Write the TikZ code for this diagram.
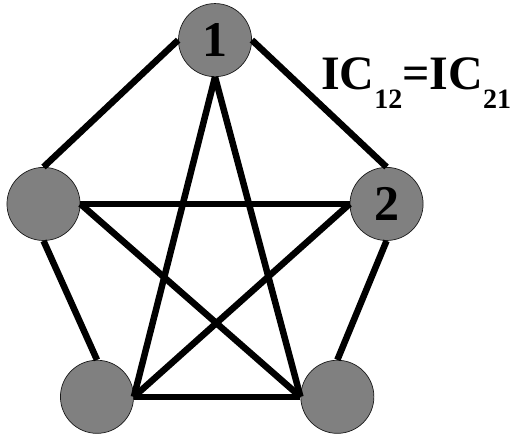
\documentclass[tikz,border=0pt]{standalone}
\usepackage{fontspec}
\setmainfont{Liberation Serif}
\usepackage{tikz}
\usetikzlibrary{positioning, calc}
\definecolor{MediumGray}{rgb}{0.5, 0.5, 0.5}
\definecolor{DarkLine}{rgb}{0.1, 0.1, 0.1}

\begin{document}
\begin{tikzpicture}[
    agent/.style={circle, draw=DarkLine, line width=0.7pt, fill=MediumGray,
                  minimum size=2.57cm, inner sep=0pt, font=\bfseries\fontsize{50}{50}\selectfont},
    link/.style={line width=6.5pt, black},
    lbl/.style={font=\bfseries\fontsize{48}{48}\selectfont, inner sep=0pt},
]
\useasboundingbox (0,0) rectangle (17.93,15.43);

% ============ agentes ============
\node[agent] (a1) at (7.56,14.02) {1};
\node[agent] (a2) at (13.59,8.26) {2};
\node[agent] (a3) at (11.86,1.48) {};
\node[agent] (a4) at (3.41,1.48) {};
\node[agent] (a5) at (1.53,8.26) {};

% ============ contorno ============
\draw[link] (a1.east) -- (a2.north);
\draw[link] (a2.south) -- (a3.north);
\draw[link] (a3.west) -- (a4.east);
\draw[link] (a4.north) -- (a5.south);
\draw[link] (a5.north) -- (a1.west);

% ============ estrella ============
\draw[link] (a1.south) -- (a3.west);
\draw[link] (a1.south) -- (a4.east);
\draw[link] (a5.east) -- (a2.west);
\draw[link] (a5.east) -- (a3.west);
\draw[link] (a2.west) -- (a4.east);

% etiqueta de simetria
\node[lbl, anchor=base west] (ic) at (11.28,12.27)
    {IC\raisebox{-19pt}{\fontsize{28}{28}\selectfont 12}=IC\raisebox{-19pt}{\fontsize{28}{28}\selectfont 21}};

\end{tikzpicture}
\end{document}
